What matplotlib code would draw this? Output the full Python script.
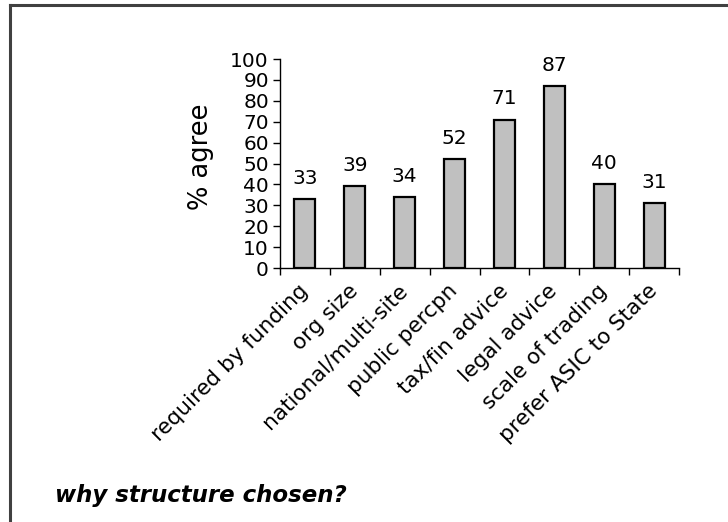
import numpy as np
import matplotlib.pyplot as plt
import matplotlib.lines as mlines

reasons = ["required by funding", "org size", "national/multi-site", "public percpn",
           "tax/fin advice", "legal advice", "scale of trading", "prefer ASIC to State"]
agree_pct = [33, 39, 34, 52, 71, 87, 40, 31]

plt.rcParams['font.family'] = ['DejaVu Sans']

fig = plt.figure(figsize=(7.28, 5.22), dpi=100)
ax = fig.add_axes([280 / 728, 1 - 268 / 522, 399 / 728, 209 / 522])

x = np.arange(len(reasons))
bars = ax.bar(x, agree_pct, width=0.42, color='#c0c0c0', edgecolor='black', linewidth=1.6, zorder=3)

for b, v in zip(bars, agree_pct):
    ax.annotate(str(v), (b.get_x() + b.get_width() / 2, v), xytext=(0, 8),
                textcoords='offset points', ha='center', va='bottom', fontsize=14.5)

ax.set_xlim(-0.5, len(reasons) - 0.5)
ax.set_ylim(0, 100)
ax.set_yticks(range(0, 101, 10))
ax.tick_params(axis='y', labelsize=14.5, length=5, width=1, direction='out', pad=3)

# ticks sit on category boundaries, labels on the category centres
ax.set_xticks(np.arange(len(reasons) + 1) - 0.5)
ax.set_xticklabels([])
ax.tick_params(axis='x', length=5, width=1, direction='out')
ax.set_xticks(x, minor=True)
ax.set_xticklabels(reasons, minor=True, rotation=45, ha='right', va='center',
                   rotation_mode='anchor', fontsize=15.5)
ax.tick_params(axis='x', which='minor', length=0, pad=14)

for side in ['top', 'right']:
    ax.spines[side].set_visible(False)
ax.spines['left'].set_linewidth(1)
ax.spines['bottom'].set_linewidth(1)

ax.set_ylabel('% agree', fontsize=18.5)
ax.yaxis.set_label_coords(-0.165, 0.53)

fig.text(55 / 728, 1 - 502 / 522, 'why structure chosen?', fontsize=16.5,
         fontweight='bold', fontstyle='italic', ha='left', va='baseline')

# frame lines along the top and left edges
fig.add_artist(mlines.Line2D([10 / 728, 1], [1 - 5 / 522, 1 - 5 / 522], color='#404040', linewidth=2.2))
fig.add_artist(mlines.Line2D([10 / 728, 10 / 728], [0, 1 - 5 / 522], color='#404040', linewidth=2.2))

fig.savefig('out.png', dpi=100)
